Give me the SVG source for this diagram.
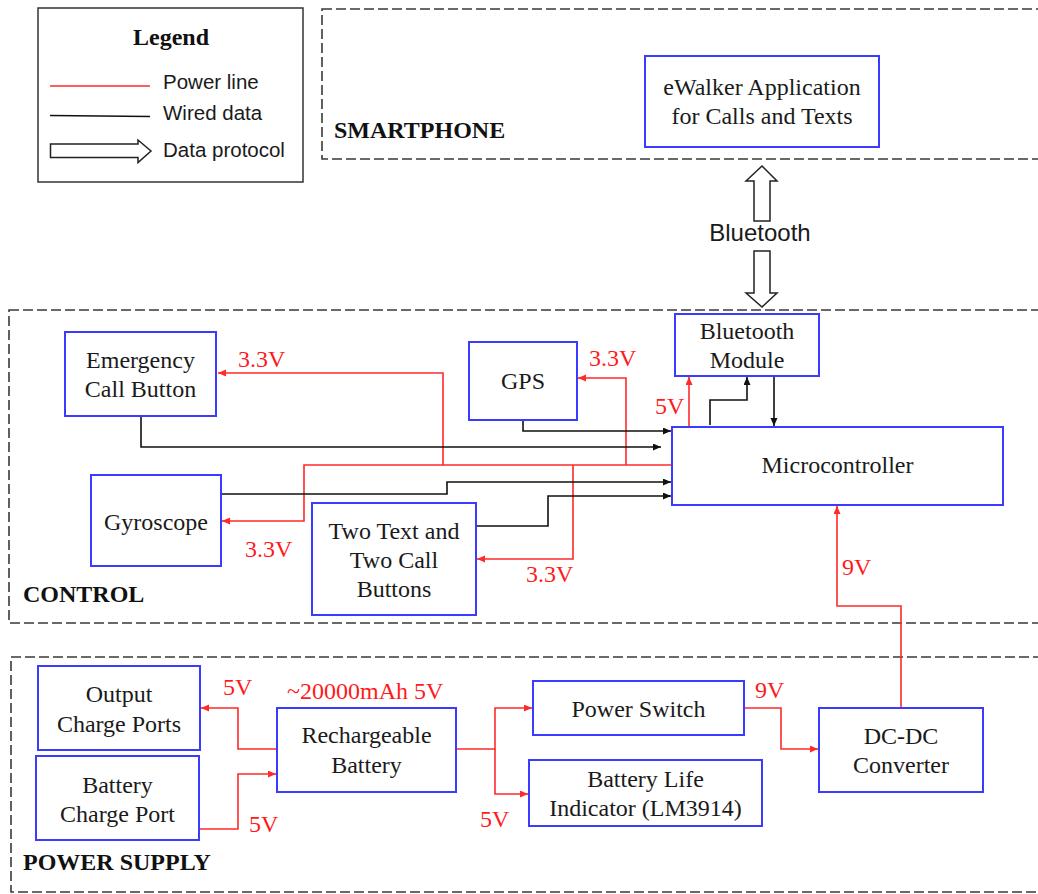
<svg xmlns="http://www.w3.org/2000/svg" width="1038" height="894" viewBox="0 0 1038 894">
<style>
.node{fill:#fff;stroke:#3b3bff;stroke-width:2}
.t{font-family:"Liberation Serif","Times New Roman",serif;font-size:24px;fill:#1a1a1a;text-anchor:middle}
.sec{font-family:"Liberation Serif","Times New Roman",serif;font-size:24px;font-weight:bold;fill:#111}
.v{font-family:"Liberation Serif","Times New Roman",serif;font-size:24px;fill:#ff1a1a}
.s{font-family:"Liberation Sans",Arial,sans-serif;fill:#1a1a1a}
.dash{fill:none;stroke:#3a3a3a;stroke-width:1.6;stroke-dasharray:10 4}
.pw{fill:none;stroke:#ff2a2a;stroke-width:1.6}
.wd{fill:none;stroke:#111;stroke-width:1.6}
.hollow{fill:#fff;stroke:#222;stroke-width:1.5;stroke-linejoin:miter}
</style>
<defs>
<marker id="ar" markerUnits="userSpaceOnUse" markerWidth="9" markerHeight="8" refX="8" refY="3.5" orient="auto"><path d="M0,0 L8,3.5 L0,7 z" fill="#ff2a2a"/></marker>
<marker id="ab" markerUnits="userSpaceOnUse" markerWidth="9" markerHeight="8" refX="8" refY="3.5" orient="auto"><path d="M0,0 L8,3.5 L0,7 z" fill="#111"/></marker>
</defs>
<rect width="1038" height="894" fill="#fff"/>

<g id="legend">
<rect x="38" y="8" width="265" height="174" fill="#fff" stroke="#333" stroke-width="1.5"/>
<text x="171" y="45" class="sec" text-anchor="middle">Legend</text>
<line x1="50" y1="86" x2="150" y2="86" stroke="#ff2a2a" stroke-width="1.6"/>
<text x="163" y="89" class="s" font-size="20.5">Power line</text>
<line x1="50" y1="115.5" x2="150" y2="116.5" stroke="#111" stroke-width="1.6"/>
<text x="163" y="120" class="s" font-size="20.5">Wired data</text>
<path class="hollow" d="M50.5,144 H138 V140 L151,151 L138,162.5 V157.5 H50.5 Z"/>
<text x="163" y="157" class="s" font-size="20.5">Data protocol</text>
</g>

<g id="sections">
<rect class="dash" x="322" y="9" width="740" height="150"/>
<text class="sec" x="334" y="138">SMARTPHONE</text>
<rect class="dash" x="9" y="310" width="1060" height="313"/>
<text class="sec" x="23" y="602">CONTROL</text>
<rect class="dash" x="11" y="657" width="1060" height="235"/>
<text class="sec" x="23" y="870">POWER SUPPLY</text>
</g>

<g id="connectors">
<path class="pw" d="M672,465 H443 V373 H218" marker-end="url(#ar)"/>
<path class="pw" d="M443,465 H304 V521 H222" marker-end="url(#ar)"/>
<path class="pw" d="M626,465 V378 H578" marker-end="url(#ar)"/>
<path class="pw" d="M573,465 V559 H477" marker-end="url(#ar)"/>
<path class="pw" d="M689,427 V377" marker-end="url(#ar)"/>
<path class="pw" d="M901,708 V606 H837 V506" marker-end="url(#ar)"/>
<path class="pw" d="M277,749 H238 V708 H201" marker-end="url(#ar)"/>
<path class="pw" d="M199,829 H238 V774 H276" marker-end="url(#ar)"/>
<path class="pw" d="M456,749 H495 V708 H532" marker-end="url(#ar)"/>
<path class="pw" d="M495,749 V794 H528" marker-end="url(#ar)"/>
<path class="pw" d="M744,708 H781 V749 H818" marker-end="url(#ar)"/>
<path class="wd" d="M141,416 V447 H661" marker-end="url(#ab)"/>
<path class="wd" d="M523,420 V431 H671" marker-end="url(#ab)"/>
<path class="wd" d="M221,494 H447 V482 H671" marker-end="url(#ab)"/>
<path class="wd" d="M476,526 H548 V496 H671" marker-end="url(#ab)"/>
<path class="wd" d="M710,425 V400 H747 V377" marker-end="url(#ab)"/>
<path class="wd" d="M774,376 V426" marker-end="url(#ab)"/>
<path class="hollow" d="M754,221 V181 H746 L762,166 L777,181 H770 V221 Z"/>
<path class="hollow" d="M754,251 H770 V293 H777 L762,307 L746,293 H754 Z"/>
<text x="760" y="241" class="s" font-size="24" text-anchor="middle">Bluetooth</text>
<text class="v" x="238" y="367">3.3V</text>
<text class="v" x="245" y="557">3.3V</text>
<text class="v" x="589" y="366">3.3V</text>
<text class="v" x="526" y="582">3.3V</text>
<text class="v" x="655" y="414">5V</text>
<text class="v" x="842" y="575">9V</text>
<text class="v" x="223" y="695">5V</text>
<text class="v" x="249" y="832">5V</text>
<text class="v" x="287" y="699">~20000mAh 5V</text>
<text class="v" x="480" y="827">5V</text>
<text class="v" x="755" y="698">9V</text>
</g>

<g id="ewalker"><rect class="node" x="645" y="56" width="234" height="91"/><text class="t" x="762" y="95">eWalker Application</text><text class="t" x="762" y="124">for Calls and Texts</text></g>
<g id="emergency"><rect class="node" x="65" y="332" width="151" height="84"/><text class="t" x="140.5" y="368">Emergency</text><text class="t" x="140.5" y="397">Call Button</text></g>
<g id="gps"><rect class="node" x="469" y="342" width="108" height="78"/><text class="t" x="523" y="389">GPS</text></g>
<g id="btmodule"><rect class="node" x="675" y="314" width="144" height="62"/><text class="t" x="747" y="339">Bluetooth</text><text class="t" x="747" y="368">Module</text></g>
<g id="micro"><rect class="node" x="672" y="427" width="331" height="78"/><text class="t" x="837.5" y="473">Microcontroller</text></g>
<g id="gyro"><rect class="node" x="91" y="475" width="130" height="91"/><text class="t" x="156" y="530">Gyroscope</text></g>
<g id="buttons"><rect class="node" x="312" y="503" width="164" height="112"/><text class="t" x="394" y="539">Two Text and</text><text class="t" x="394" y="568">Two Call</text><text class="t" x="394" y="597">Buttons</text></g>
<g id="outports"><rect class="node" x="38" y="666" width="162" height="84"/><text class="t" x="119" y="702">Output</text><text class="t" x="119" y="732">Charge Ports</text></g>
<g id="chargeport"><rect class="node" x="36" y="756" width="163" height="84"/><text class="t" x="117.5" y="793">Battery</text><text class="t" x="117.5" y="822">Charge Port</text></g>
<g id="battery"><rect class="node" x="277" y="708" width="179" height="84"/><text class="t" x="366.5" y="743">Rechargeable</text><text class="t" x="366.5" y="773">Battery</text></g>
<g id="switch"><rect class="node" x="533" y="681" width="211" height="54"/><text class="t" x="638.5" y="717">Power Switch</text></g>
<g id="lifeind"><rect class="node" x="529" y="760" width="233" height="66"/><text class="t" x="645.5" y="787">Battery Life</text><text class="t" x="645.5" y="816">Indicator (LM3914)</text></g>
<g id="dcdc"><rect class="node" x="819" y="708" width="164" height="84"/><text class="t" x="901" y="744">DC-DC</text><text class="t" x="901" y="773">Converter</text></g>
</svg>
